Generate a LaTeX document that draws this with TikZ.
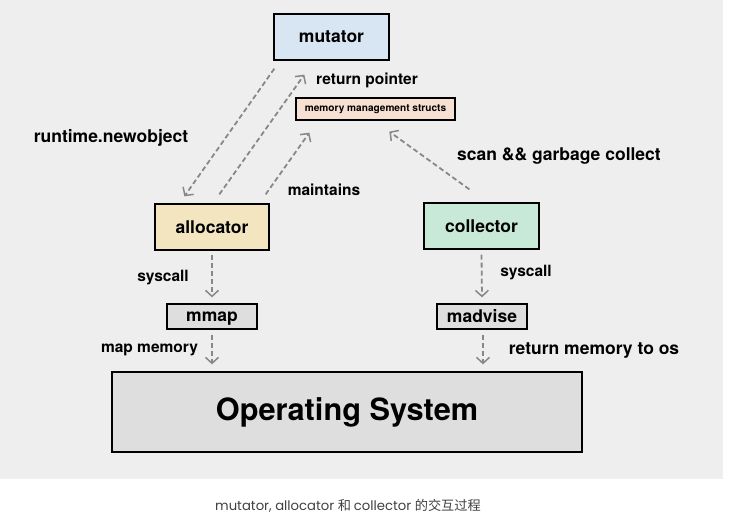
\documentclass[tikz,border=0pt]{standalone}
\usepackage{fontspec}
\setmainfont{TeX Gyre Heros}
\newfontfamily\cjk{Noto Sans CJK SC}
\newfontfamily\capfont{Poppins}
\usepackage{tikz}
\usetikzlibrary{calc, arrows.meta}
\definecolor{mygray1}{RGB}{238, 238, 238}
\definecolor{mygray2}{RGB}{222, 222, 222}
\definecolor{mygray3}{RGB}{136, 136, 136}
\definecolor{myblue}{RGB}{216, 229, 242}
\definecolor{mypeach}{RGB}{246, 224, 210}
\definecolor{myyellow}{RGB}{243, 229, 192}
\definecolor{mygreen}{RGB}{201, 233, 216}
\newcommand{\bigtxt}{\fontsize{17.5}{20}\selectfont\bfseries}
\newcommand{\smalltxt}{\fontsize{15.5}{18}\selectfont\bfseries}
\tikzset{>=latex}

\begin{document}
\begin{tikzpicture}[x=1pt, y=-1pt,
  box/.style={draw=black, line width=1.3pt, inner sep=0pt, font=\bigtxt},
  flow/.style={draw=mygray3, line width=1.8pt, dash pattern=on 5pt off 3pt,
    -{Straight Barb[length=6pt, width=13pt, line width=1.5pt]}}]
\useasboundingbox (0,0) rectangle (733,519);
\fill[mygray1] (0,0) rectangle (722.5,479);

% boxes
\node[box, fill=myblue, minimum width=115, minimum height=46] (mut) at (331.5,37) {mutator};
\node[box, fill=mypeach, minimum width=159, minimum height=22, font=\fontsize{10.1}{12}\selectfont\bfseries] (mms) at (375.5,109) {memory management structs};
\node[box, fill=myyellow, minimum width=114, minimum height=46] (alloc) at (212,227) {allocator};
\node[box, fill=mygreen, minimum width=115, minimum height=46] (coll) at (481.5,226) {collector};
\node[box, fill=mygray2, minimum width=90, minimum height=25, text depth=0pt] (mmap) at (212,316.5) {mmap};
\node[box, fill=mygray2, minimum width=90, minimum height=25] (madv) at (482,316.5) {madvise};
\node[box, fill=mygray2, minimum width=470, minimum height=80, font=\fontsize{30.7}{34}\selectfont\bfseries] (os) at (347,412) {Operating System};

% labels
\node[font=\smalltxt] (retptr) at (367,80) {return pointer};
\node[font=\bigtxt] (newobj) at (111,138) {runtime.newobject};
\node[font=\bigtxt] (scan) at (559,156) {scan \&\& garbage collect};
\node[font=\smalltxt] (maint) at (324,190) {maintains};
\node[font=\smalltxt] (sysl) at (163,278) {syscall};
\node[font=\smalltxt] (sysr) at (526,273) {syscall};
\node[font=\smalltxt] (mapm) at (149.5,350) {map memory};
\node[font=\bigtxt] (retos) at (594,351) {return memory to os};
\node[text=black!75, font=\fontsize{13.2}{16}\selectfont] (cap) at (348,506) {\capfont mutator, allocator \cjk 和 \capfont collector \cjk 的交互过程};

% connectors
\draw[flow] ($(mut.south west)+(1,8)$) -- ($(alloc.north west)+(30,-7)$);
\draw[flow] ($(alloc.north west)+(65,-9)$) -- ($(mut.south west)+(31,14)$);
\draw[flow] ($(alloc.north east)+(-4,-9)$) -- ($(mms.south west)+(14,12)$);
\draw[flow] ($(coll.north west)+(46,-13)$) -- ($(mms.south west)+(94,11)$);
\draw[flow] ($(alloc.south)+(0,4)$) -- ($(mmap.north)+(0,-6)$);
\draw[flow] ($(mmap.south)+(0,5)$) -- ($(mmap.south |- os.north)+(0,-7)$);
\draw[flow] ($(coll.south)+(0,5)$) -- ($(madv.north)+(0,-6)$);
\draw[flow] ($(madv.south)+(1,5)$) -- ($(madv.south |- os.north)+(1,-7)$);
\end{tikzpicture}
\end{document}
